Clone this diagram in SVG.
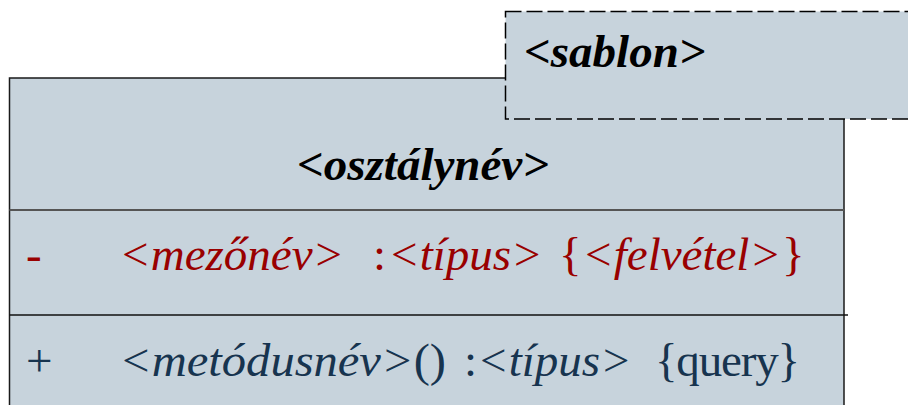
<svg xmlns="http://www.w3.org/2000/svg" width="908" height="405" viewBox="0 0 908 405">
<style>
.box{fill:#C7D3DC;}
.t{font-family:"Liberation Serif","Times New Roman",serif;font-size:47px;}
.bi{font-weight:bold;font-style:italic;fill:#000;}
.i{font-style:italic;}
.red{fill:#990000;}
.blue{fill:#17344F;}
</style>
<rect width="908" height="405" fill="#fff"/>
<g id="class">
<rect class="box" x="9.5" y="78" width="834.5" height="340" stroke="#1a1a1a" stroke-width="1.5"/>
<text class="t bi" x="423" y="180" text-anchor="middle">&lt;osztálynév&gt;</text>
</g>
<g id="attributes">
<line x1="9.5" y1="210" x2="844" y2="210" stroke="#555" stroke-width="2"/>
<text class="t red" x="26" y="270">-</text>
<text class="t red i" x="119" y="270">&lt;mezőnév&gt;</text>
<text class="t red" x="373" y="270">:</text>
<text class="t red i" x="388" y="270">&lt;típus&gt;</text>
<text class="t red" x="559" y="270">{</text>
<text class="t red i" x="582" y="270">&lt;felvétel&gt;</text>
<text class="t red" x="782" y="270">}</text>
</g>
<g id="operations">
<line x1="9.5" y1="315" x2="848" y2="315" stroke="#111" stroke-width="1.5"/>
<text class="t blue" x="26" y="376">+</text>
<text class="t blue" x="119" y="376" textLength="327" lengthAdjust="spacingAndGlyphs"><tspan class="i">&lt;metódusnév&gt;</tspan>()</text>
<text class="t blue" x="464" y="376">:</text>
<text class="t blue i" x="477" y="376">&lt;típus&gt;</text>
<text class="t blue" x="655" y="376" textLength="145" lengthAdjust="spacing">{query}</text>
</g>
<g id="template">
<rect class="box" x="505.5" y="11.5" width="410" height="107.5" stroke="#000" stroke-width="1.5" stroke-dasharray="16 5"/>
<text class="t bi" x="524" y="67">&lt;sablon&gt;</text>
</g>
<g id="connectors"/>
</svg>
